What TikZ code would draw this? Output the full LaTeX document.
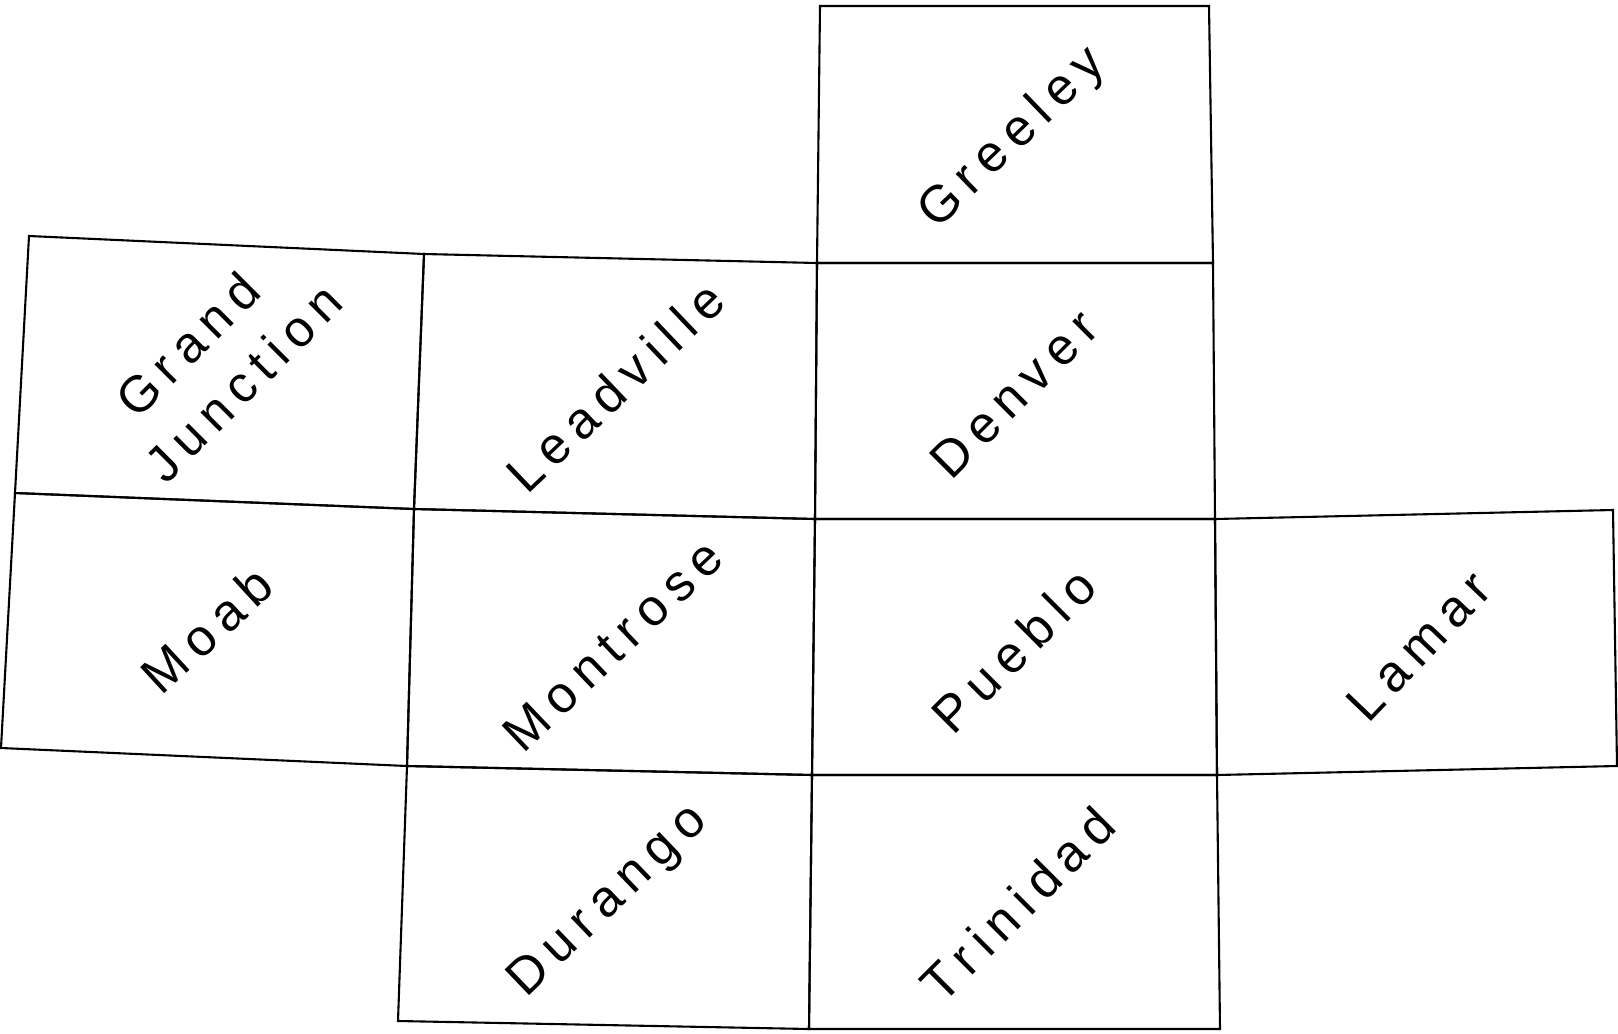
\documentclass[tikz,border=0pt]{standalone}
\usepackage{fontspec}
\setmainfont{Liberation Sans}[LetterSpace=18]
\begin{document}
\begin{tikzpicture}[x=1pt,y=-1pt,
  cell/.style={line width=2.1pt,line join=miter},
  city/.style={font=\fontsize{51.5}{64}\selectfont,align=center,inner sep=0pt}]
\useasboundingbox (0,0) rectangle (1618,1034);
% vertices
\coordinate (g1) at (820,6);   \coordinate (g2) at (1209,6);
\coordinate (a0) at (29,236);  \coordinate (a1) at (424,254);
\coordinate (a2) at (817,263); \coordinate (a3) at (1213,263);
\coordinate (b0) at (15,493);  \coordinate (b1) at (414,509);
\coordinate (b2) at (815,519); \coordinate (b3) at (1215,519);
\coordinate (b4) at (1613,510);
\coordinate (c0) at (1,748);   \coordinate (c1) at (407,766);
\coordinate (c2) at (812,775); \coordinate (c3) at (1217,775);
\coordinate (c4) at (1617,766);
\coordinate (d1) at (398,1021); \coordinate (d2) at (809,1029);
\coordinate (d3) at (1220,1029);
% cells
\draw[cell] (g1) -- (g2) -- (a3) -- (a2) -- cycle;
\draw[cell] (a0) -- (a1) -- (b1) -- (b0) -- cycle;
\draw[cell] (a1) -- (a2) -- (b2) -- (b1) -- cycle;
\draw[cell] (a2) -- (a3) -- (b3) -- (b2) -- cycle;
\draw[cell] (b0) -- (b1) -- (c1) -- (c0) -- cycle;
\draw[cell] (b1) -- (b2) -- (c2) -- (c1) -- cycle;
\draw[cell] (b2) -- (b3) -- (c3) -- (c2) -- cycle;
\draw[cell] (b3) -- (b4) -- (c4) -- (c3) -- cycle;
\draw[cell] (c1) -- (c2) -- (d2) -- (d1) -- cycle;
\draw[cell] (c2) -- (c3) -- (d3) -- (d2) -- cycle;
% labels
\node[city,rotate=44]   (greeley)   at (1013,139) {Greeley};
\node[city,rotate=45,font=\fontsize{51}{66}\selectfont] (grandj) at (220,359) {Grand\hspace*{26pt}\\Junction};
\node[city,rotate=43.6] (leadville) at (615,387) {Leadville};
\node[city,rotate=45]   (denver)    at (1014,394) {Denver};
\node[city,rotate=42.6] (moab)      at (207,630) {Moab};
\node[city,rotate=43.6] (montrose)  at (613,645) {Montrose};
\node[city,rotate=45]   (pueblo)    at (1014,650) {Pueblo};
\node[city,rotate=46.3] (lamar)     at (1419,646) {Lamar};
\node[city,rotate=43.8] (durango)   at (609,902) {Durango};
\node[city,rotate=45]   (trinidad)  at (1018,904) {Trinidad};
\end{tikzpicture}
\end{document}
